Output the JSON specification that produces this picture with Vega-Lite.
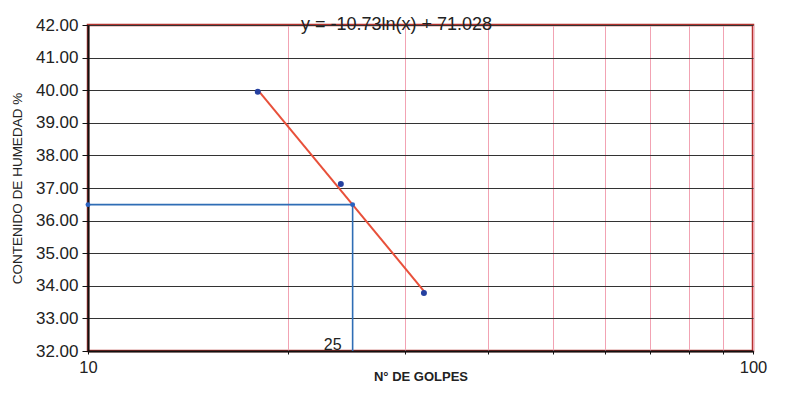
{
  "$schema": "https://vega.github.io/schema/vega-lite/v6.json",
  "width": 665,
  "height": 326,
  "autosize": {"type": "none"},
  "padding": {"left": 88, "top": 25, "right": 32, "bottom": 48},
  "background": "white",
  "config": {
    "font": "Liberation Sans",
    "view": {"stroke": "#b3332e", "strokeWidth": 2.5},
    "axis": {"labelFont": "Liberation Sans", "titleFont": "Liberation Sans", "labelColor": "#222", "titleColor": "#222"}
  },
  "datasets": {
    "puntos": [
      {"golpes": 18, "humedad": 39.95},
      {"golpes": 24, "humedad": 37.12},
      {"golpes": 32, "humedad": 33.78}
    ],
    "tendencia": [
      {"golpes": 18, "humedad": 40.01},
      {"golpes": 32, "humedad": 33.84}
    ],
    "guia": [
      {"orden": 1, "golpes": 10, "humedad": 36.49},
      {"orden": 2, "golpes": 25, "humedad": 36.49},
      {"orden": 3, "golpes": 25, "humedad": 32}
    ],
    "ecuacion": [
      {"golpes": 29.1, "humedad": 42, "rotulo": "y = -10.73ln(x) + 71.028"}
    ]
  },
  "encoding": {
    "x": {
      "field": "golpes", "type": "quantitative",
      "scale": {"type": "log", "domain": [10, 100], "nice": false},
      "axis": {
        "title": "N° DE GOLPES",
        "titleFontWeight": "bold", "titleFontSize": 13,
        "titleY": 25, "titleBaseline": "middle",
        "values": [10, 20, 30, 40, 50, 60, 70, 80, 90, 100],
        "format": "d",
        "labelExpr": "datum.value == 10 || datum.value == 100 ? datum.label : ''",
        "labelFontSize": 16.5, "labelPadding": 5,
        "labelFlush": false, "labelOverlap": false,
        "grid": true, "gridColor": "#f2a3b3", "gridWidth": 1,
        "domainColor": "#111", "domainWidth": 2,
        "tickColor": "#111", "tickSize": 3
      }
    },
    "y": {
      "field": "humedad", "type": "quantitative",
      "scale": {"domain": [32, 42], "nice": false, "zero": false},
      "axis": {
        "title": "CONTENIDO DE HUMEDAD %",
        "titleFontWeight": "normal", "titleFontSize": 13.5,
        "titleX": -71, "titleBaseline": "middle",
        "values": [32, 33, 34, 35, 36, 37, 38, 39, 40, 41, 42],
        "tickCount": 11,
        "format": ".2f",
        "labelFontSize": 17, "labelPadding": 4,
        "labelOverlap": false, "labelFlush": false,
        "grid": true, "gridColor": "#333", "gridWidth": 1.2,
        "domainColor": "#111", "domainWidth": 2,
        "tickColor": "#111", "tickSize": 6
      }
    }
  },
  "layer": [
    {
      "data": {"name": "guia"},
      "mark": {"type": "line", "color": "#2f6db5", "strokeWidth": 1.6},
      "encoding": {
        "order": {"field": "orden", "type": "quantitative"}
      }
    },
    {
      "data": {"name": "tendencia"},
      "mark": {"type": "line", "color": "#e8503a", "strokeWidth": 2},
      "encoding": {}
    },
    {
      "data": {"name": "puntos"},
      "mark": {"type": "point", "filled": true, "color": "#2540a0", "size": 36, "opacity": 1}
    },
    {
      "data": {"name": "guia"},
      "transform": [{"filter": "datum.orden < 3"}],
      "mark": {"type": "point", "filled": true, "color": "#2a62c0", "size": 24, "opacity": 1}
    },
    {
      "data": {"values": [{"golpes": 25, "humedad": 32, "rotulo": "25"}]},
      "mark": {"type": "text", "fontSize": 16, "color": "#222", "align": "center", "baseline": "bottom", "dx": -20, "dy": 2},
      "encoding": {
        "text": {"field": "rotulo"}
      }
    },
    {
      "data": {"name": "ecuacion"},
      "mark": {"type": "text", "fontSize": 18, "color": "#222", "align": "center", "baseline": "middle", "dy": 0},
      "encoding": {
        "text": {"field": "rotulo"}
      }
    }
  ]
}
